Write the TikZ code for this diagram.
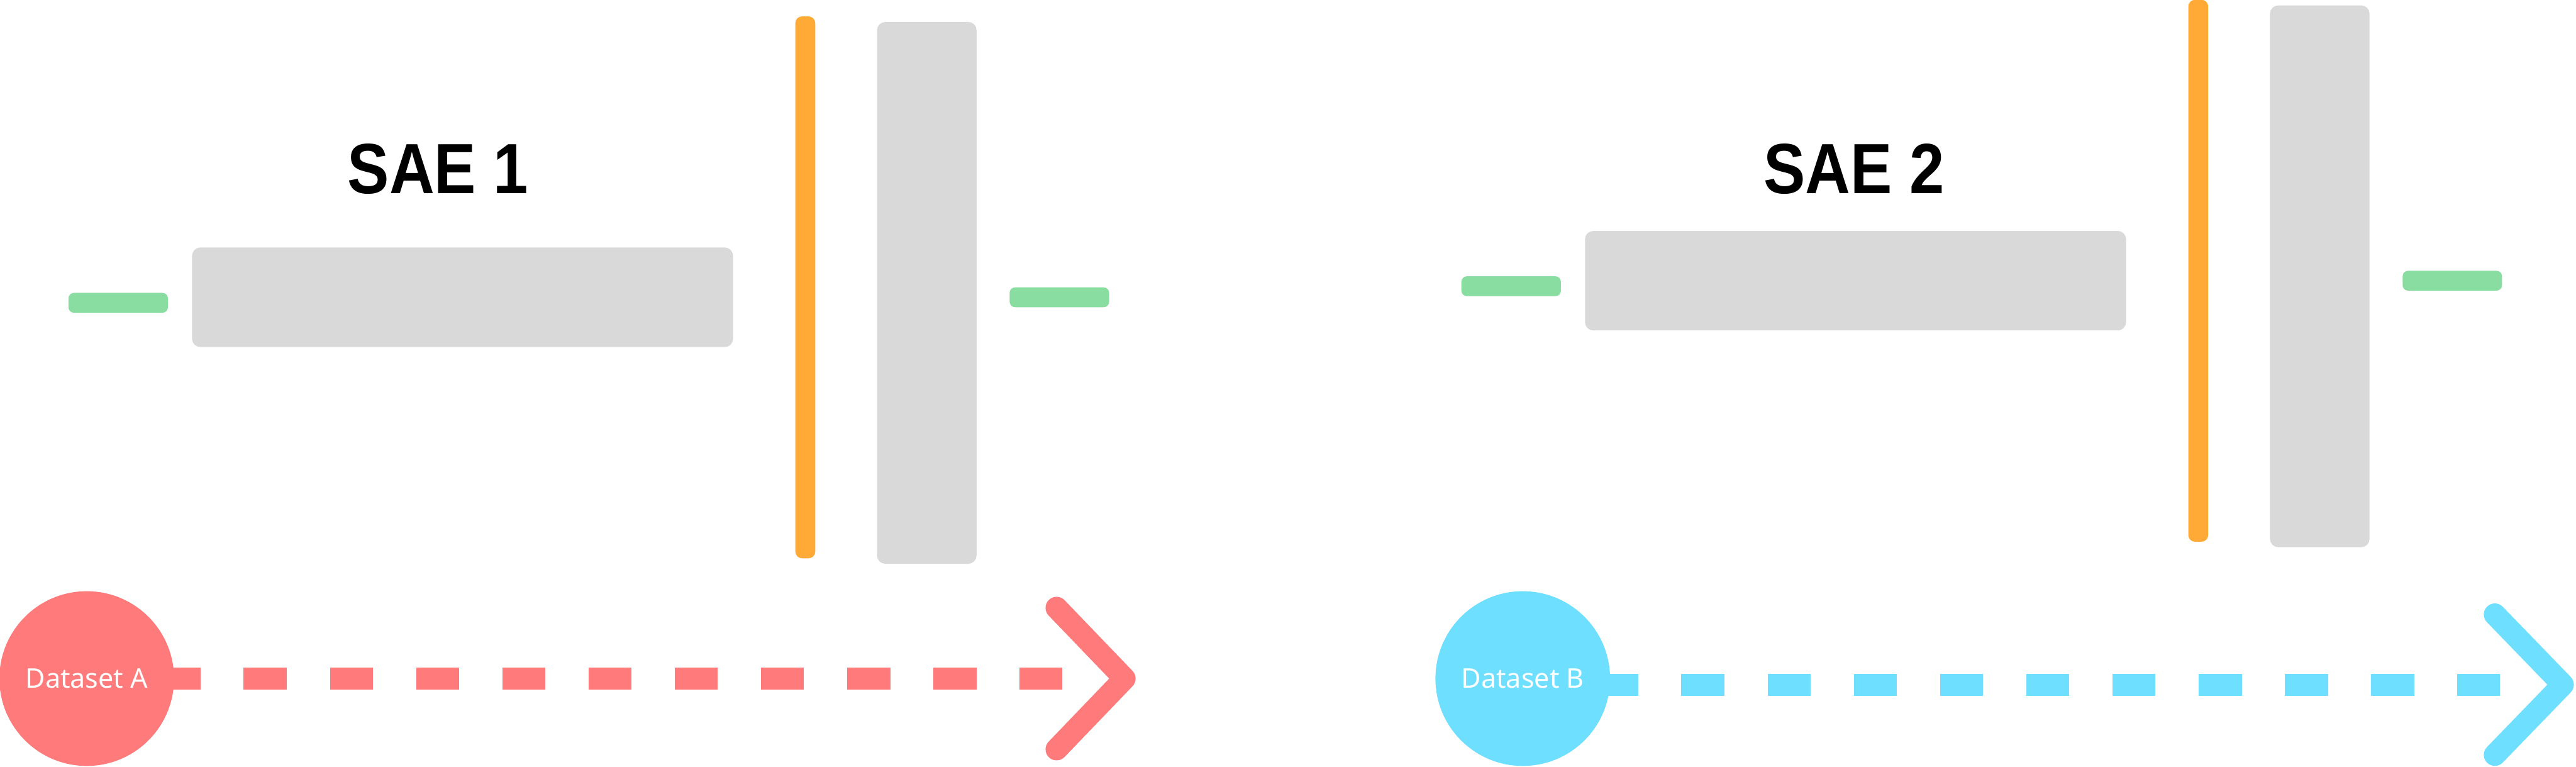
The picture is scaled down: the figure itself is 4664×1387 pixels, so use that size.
\documentclass[tikz,border=0pt]{standalone}
\usepackage{fontspec}
\usetikzlibrary{calc}
\setmainfont{Noto Sans}
\newfontfamily\titlefont{Liberation Sans}[FakeStretch=0.88]
\definecolor{cRed}{RGB}{255,122,122}
\definecolor{cBlue}{RGB}{110,223,255}
\definecolor{cOrange}{RGB}{255,170,55}
\definecolor{cGray}{RGB}{217,217,217}
\definecolor{cGreen}{RGB}{138,221,160}
\begin{document}
\begin{tikzpicture}[x=0.01cm,y=-0.01cm,
  graybox/.style={fill=cGray, draw=none, rounded corners=0.15cm, inner sep=0pt},
  widebox/.style={graybox, minimum width=9.79cm, minimum height=1.8cm},
  tallbox/.style={graybox, minimum width=1.8cm, minimum height=9.8cm},
  orangebar/.style={fill=cOrange, draw=none, rounded corners=0.12cm, inner sep=0pt, minimum width=0.36cm, minimum height=9.8cm},
  greenbar/.style={fill=cGreen, draw=none, rounded corners=0.1cm, inner sep=0pt, minimum width=1.8cm, minimum height=0.36cm},
  title/.style={font=\titlefont\bfseries\fontsize{36.6}{40}\selectfont, anchor=base, inner sep=0pt},
  dataset/.style={circle, draw=none, inner sep=0pt, minimum size=3.16cm, text=white, font=\fontsize{13.95}{16}\selectfont},
  flow/.style={line width=0.4cm, dash pattern=on 0.78cm off 0.78cm},
  chevron/.style={line width=0.4cm, line cap=round, line join=round}
]
\useasboundingbox (0,0) rectangle (4664,1387);

% ---------- SAE 1 ----------
\node[title] (t1) at (793,350) {SAE 1};
\node[greenbar] (in1) at (214,548) {};
\node[widebox] (enc1) at (837.5,538) {};
\node[orangebar] (lat1) at (1458,520) {};
\node[tallbox] (dec1) at (1678,530) {};
\node[greenbar] (out1) at (1918,538) {};

\coordinate (startA) at (157,1228);
\coordinate (endA) at (1923,1228);
\coordinate (tipA) at (2036,1228);
\draw[flow, cRed, dash phase=0.28cm] (startA) -- (endA);
\node[dataset, fill=cRed] (A) at (startA) {Dataset A};
\draw[chevron, cRed] ($(tipA)+(-123,-128)$) -- (tipA) -- ($(tipA)+(-123,128)$);

% ---------- SAE 2 ----------
\node[title] (t2) at (3357,350) {SAE 2};
\node[greenbar] (in2) at (2736,518) {};
\node[widebox] (enc2) at (3359.5,508) {};
\node[orangebar] (lat2) at (3980,490) {};
\node[tallbox] (dec2) at (4200,500) {};
\node[greenbar] (out2) at (4440,508) {};

\coordinate (startB) at (2757,1239);
\coordinate (endB) at (4526,1239);
\coordinate (tipB) at (4640,1239);
\draw[flow, cBlue, dash phase=0.25cm] (startB) -- (endB);
\node[dataset, fill=cBlue] (B) at (2757,1228) {Dataset B};
\draw[chevron, cBlue] ($(tipB)+(-123,-127)$) -- (tipB) -- ($(tipB)+(-123,127)$);
\end{tikzpicture}
\end{document}
